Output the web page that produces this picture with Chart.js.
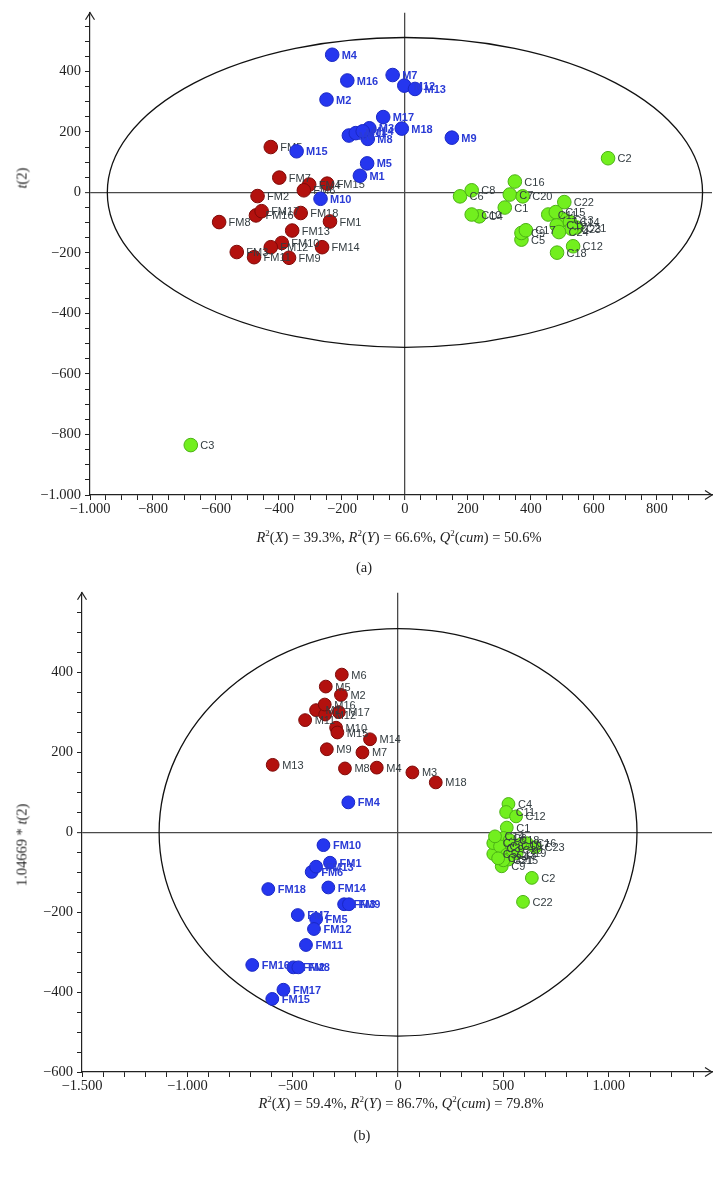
<!DOCTYPE html>
<html><head><meta charset="utf-8">
<script src="https://cdn.jsdelivr.net/npm/chart.js@4.4.1/dist/chart.umd.min.js"></script>
<style>
html,body{margin:0;padding:0;background:#fff;width:725px;height:1182px;overflow:hidden;}
#wrap{position:relative;width:725px;height:1182px;}
canvas{position:absolute;left:0;}
.txt{position:absolute;font-family:"Liberation Serif","DejaVu Serif",serif;color:#222;white-space:nowrap;transform:translate(-50%,-50%);font-size:14.5px;}
.ylab{transform:translate(-50%,-50%) rotate(-90deg);}
sup{font-size:9px;vertical-align:6px;line-height:0;}
</style></head>
<body><div id="wrap">
<canvas id="c1" width="725" height="540" style="top:0"></canvas>
<canvas id="c2" width="725" height="530" style="top:580px"></canvas>
<div class="txt ylab" style="left:22px;top:178px"><i>t</i>(2)</div>
<div class="txt" style="left:399px;top:537px"><i>R</i><sup>2</sup>(<i>X</i>) = 39.3%, <i>R</i><sup>2</sup>(<i>Y</i>) = 66.6%, <i>Q</i><sup>2</sup>(<i>cum</i>) = 50.6%</div>
<div class="txt" style="left:364px;top:567px">(a)</div>
<div class="txt ylab" style="left:22px;top:845px">1.04669 * <i>t</i>(2)</div>
<div class="txt" style="left:401px;top:1103px"><i>R</i><sup>2</sup>(<i>X</i>) = 59.4%, <i>R</i><sup>2</sup>(<i>Y</i>) = 86.7%, <i>Q</i><sup>2</sup>(<i>cum</i>) = 79.8%</div>
<div class="txt" style="left:362px;top:1135px">(b)</div>
</div>
<script>
// ---------- Panel (a) data ----------
const aMLabels = ['M1','M2','M3','M4','M5','M6','M7','M8','M9','M10','M11','M12','M13','M14','M15','M16','M17','M18'];
const aMX = [-143,-249,-113,-231,-120,-178,-39,-118,149,-268,-156,-2,32,-134,-344,-183,-69,-10];
const aMY = [55,307,212,455,96,188,388,177,181,-21,196,353,342,202,136,370,249,211];

const aFMLabels = ['FM1','FM2','FM3','FM4','FM5','FM6','FM7','FM8','FM9','FM10','FM11','FM12','FM13','FM14','FM15','FM16','FM17','FM18'];
const aFMX = [-238,-468,-534,-304,-426,-321,-399,-590,-368,-391,-479,-426,-358,-263,-247,-473,-455,-331];
const aFMY = [-96,-12,-197,26,150,7,49,-98,-216,-167,-214,-181,-126,-181,29,-76,-62,-68];

const aCLabels = ['C1','C2','C3','C4','C5','C6','C7','C8','C9','C10','C11','C12','C13','C14','C15','C16','C17','C18','C19','C20','C21','C22','C23','C24'];
const aCX = [317,645,-680,236,370,175,333,212,370,212,455,534,505,524,479,349,384,483,482,374,545,506,529,489];
const aCY = [-50,113,-835,-79,-156,-13,-7,7,-134,-73,-73,-178,-90,-98,-65,36,-125,-199,-109,-13,-116,-32,-120,-131];

const aXMajor = [-1000,-800,-600,-400,-200,0,200,400,600,800];
const aYMajor = [-1000,-800,-600,-400,-200,0,200,400];

// ---------- Panel (b) data ----------
const bMLabels = ['M1','M2','M3','M4','M5','M6','M7','M8','M9','M10','M11','M12','M13','M14','M15','M16','M17','M18'];
const bMX = [-389,-271,68,-101,-343,-267,-169,-252,-338,-294,-441,-346,-595,-133,-288,-348,-281,179];
const bMY = [306,344,150,162,365,395,200,160,208,262,281,295,169,233,250,320,301,125];

const bFMLabels = ['FM1','FM2','FM3','FM4','FM5','FM6','FM7','FM8','FM9','FM10','FM11','FM12','FM13','FM14','FM15','FM16','FM17','FM18'];
const bFMX = [-323,-497,-256,-236,-389,-410,-476,-473,-233,-354,-437,-399,-389,-331,-597,-692,-544,-616];
const bFMY = [-76,-338,-180,75,-217,-99,-207,-338,-180,-32,-282,-242,-86,-138,-417,-332,-394,-142];

const bCLabels = ['C1','C2','C3','C4','C5','C6','C7','C8','C9','C10','C11','C12','C13','C14','C15','C16','C17','C18','C19','C20','C21','C22','C23','C24'];
const bCX = [516,635,470,524,452,500,452,484,492,540,513,560,516,460,524,611,579,530,563,545,500,593,650,475];
const bCY = [12,-114,-40,71,-54,-14,-27,-35,-85,-35,51,40,-56,-10,-68,-27,-31,-20,-52,-45,-70,-174,-37,-65];

const bXMajor = [-1500,-1000,-500,0,500,1000];
const bYMajor = [-600,-400,-200,0,200,400];

// ---------- helpers ----------
const BLUE = {fill:'#2536ef', border:'#1a28c4', text:'#2a3bd6', bold:true};
const RED = {fill:'#b3110e', border:'#7e0a08', text:'#333c40', bold:false};
const GREEN = {fill:'#72ef1e', border:'#4cb216', text:'#333c40', bold:false};

function fmt(v){
  const a = Math.abs(v);
  const s = a >= 1000 ? Math.floor(a/1000) + '.' + String(a%1000).padStart(3,'0') : String(a);
  return (v < 0 ? '\u2212' : '') + s;
}
function pts(xs, ys){ return xs.map((x,i)=>({x:x, y:ys[i]})); }
function ds(name, xs, ys, labels, col, order, r){
  return {label:name, data:pts(xs,ys), pointLabels:labels, labelColor:col.text, labelBold:col.bold,
    backgroundColor:col.fill, borderColor:col.border, borderWidth:1, pointRadius:r, pointHoverRadius:r, order:order};
}
function stepTicks(min, max, step){ const t=[]; for(let v=min; v<=max+1e-9; v+=step) t.push({value:v}); return t; }

const labelPlugin = {
  id:'ptLabels',
  afterDatasetDraw(chart, args){
    const d = chart.data.datasets[args.index];
    const ctx = chart.ctx;
    ctx.save();
    ctx.font = (d.labelBold ? 'bold ' : '') + '11px "Liberation Sans", Arial, sans-serif';
    ctx.fillStyle = d.labelColor;
    ctx.textBaseline = 'middle';
    args.meta.data.forEach((p,i)=>{ ctx.fillText(d.pointLabels[i], p.x + 9.5, p.y + 1); });
    ctx.restore();
  }
};
const ellipsePlugin = {
  id:'ellipse',
  beforeDatasetsDraw(chart, args, opts){
    const xs = chart.scales.x, ys = chart.scales.y, ctx = chart.ctx;
    const cx = xs.getPixelForValue(0), cy = ys.getPixelForValue(0);
    const rx = xs.getPixelForValue(opts.a) - cx, ry = cy - ys.getPixelForValue(opts.b);
    ctx.save();
    ctx.beginPath();
    ctx.ellipse(cx, cy, rx, ry, 0, 0, Math.PI*2);
    ctx.strokeStyle = '#111'; ctx.lineWidth = 1.3; ctx.stroke();
    ctx.restore();
  }
};
const arrowPlugin = {
  id:'arrows',
  afterDraw(chart){
    const a = chart.chartArea, ctx = chart.ctx;
    ctx.save();
    ctx.strokeStyle = '#222'; ctx.lineWidth = 1.2;
    ctx.beginPath();
    ctx.moveTo(a.left-4.5, a.top+7); ctx.lineTo(a.left, a.top); ctx.lineTo(a.left+4.5, a.top+7);
    ctx.moveTo(a.right-7, a.bottom-4.5); ctx.lineTo(a.right, a.bottom); ctx.lineTo(a.right-7, a.bottom+4.5);
    ctx.stroke();
    ctx.restore();
  }
};

function axis(min, max, step, tickMax, majors, isY, size){
  return {
    type:'linear', min:min, max:max,
    afterBuildTicks(scale){ scale.ticks = stepTicks(min, tickMax, step); },
    afterFit(scale){ if(isY) scale.width = size; else scale.height = size; },
    border:{display:true, color:'#222', width:1.2},
    grid:{
      drawOnChartArea:true, drawTicks:true, tickLength:5, tickColor:'#222', tickWidth:1,
      color:(c)=> (c.tick && c.tick.value === 0) ? '#4a4a4a' : 'rgba(0,0,0,0)',
      lineWidth:(c)=> (c.tick && c.tick.value === 0) ? 1.3 : 1
    },
    ticks:{
      autoSkip:false, maxRotation:0, minRotation:0, padding:isY?4:0, color:'#222',
      font:{family:'"Liberation Serif", "DejaVu Serif", serif', size:14.5},
      callback:(v)=> majors.includes(v) ? fmt(v) : ''
    }
  };
}

function makeChart(id, sets, xAx, yAx, ell, pad){
  new Chart(document.getElementById(id), {
    type:'scatter',
    data:{datasets:sets},
    options:{
      responsive:false, animation:false, devicePixelRatio:1,
      layout:{padding:pad},
      plugins:{legend:{display:false}, tooltip:{enabled:false}, ellipse:ell},
      scales:{x:xAx, y:yAx}
    },
    plugins:[ellipsePlugin, labelPlugin, arrowPlugin]
  });
}

makeChart('c1',
  [ds('M', aMX, aMY, aMLabels, BLUE, 0, 6.8),
   ds('FM', aFMX, aFMY, aFMLabels, RED, 1, 6.8),
   ds('C', aCX, aCY, aCLabels, GREEN, 2, 6.8)],
  axis(-1000, 975, 50, 900, aXMajor, false, 45),
  axis(-1000, 594, 50, 550, aYMajor, true, 90),
  {a:945, b:512},
  {left:0, right:13, top:12, bottom:0});

makeChart('c2',
  [ds('FM', bFMX, bFMY, bFMLabels, BLUE, 0, 6.4),
   ds('M', bMX, bMY, bMLabels, RED, 1, 6.4),
   ds('C', bCX, bCY, bCLabels, GREEN, 2, 6.4)],
  axis(-1500, 1490, 100, 1400, bXMajor, false, 38),
  axis(-600, 600, 50, 550, bYMajor, true, 82),
  {a:1134, b:510},
  {left:0, right:13, top:10, bottom:0});
</script>
</body></html>
